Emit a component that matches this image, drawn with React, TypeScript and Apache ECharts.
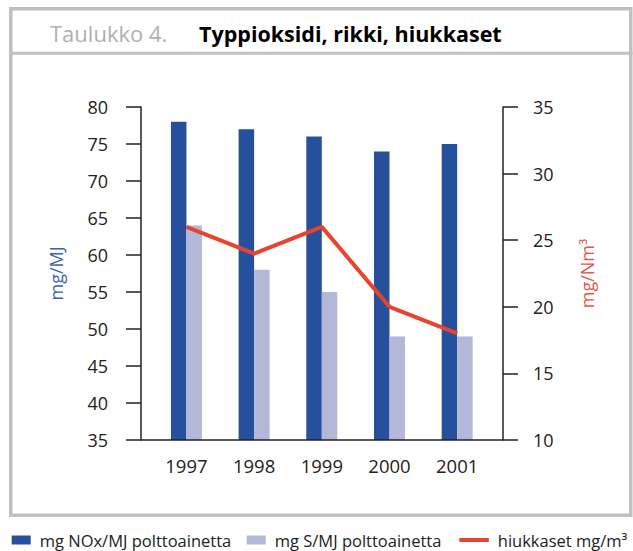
import React, { useEffect, useRef } from "react";
import * as echarts from "echarts";

const years = ["1997", "1998", "1999", "2000", "2001"];
const noxValues = [78, 77, 76, 74, 75];
const sulfurValues = [64, 58, 55, 49, 49];
const particleValues = [26, 24, 26, 20, 18];

const noxName = "mg NOx/MJ polttoainetta";
const sulfurName = "mg S/MJ polttoainetta";
const particleName = "hiukkaset mg/m³";

const FONT = "'Open Sans', 'Noto Sans', sans-serif";
const DARK = "#26509b";
const LIGHT = "#b3b7d8";
const RED = "#e8432e";
const TEXT = "#222222";
const FRAME = "#c0c0c0";

export default function App() {
  const ref = useRef<HTMLDivElement>(null);

  useEffect(() => {
    if (!ref.current) return;
    const chart = echarts.init(ref.current, undefined, { renderer: "svg" });
    const legendText = {
      fontFamily: FONT,
      fontSize: 16.5,
      color: TEXT,
      lineHeight: 17,
      padding: [0, 0, 0, 4],
    };
    chart.setOption({
      animation: false,
      backgroundColor: "#ffffff",
      textStyle: { fontFamily: FONT },
      title: [
        {
          text: "Taulukko 4.",
          left: 50,
          top: 20,
          padding: 0,
          textStyle: {
            fontFamily: FONT,
            fontSize: 22,
            fontWeight: "normal",
            color: "#b0b0b0",
            lineHeight: 26,
          },
        },
        {
          text: "Typpioksidi, rikki, hiukkaset",
          left: 199,
          top: 20,
          padding: 0,
          textStyle: {
            fontFamily: FONT,
            fontSize: 21.5,
            fontWeight: "bold",
            color: "#000000",
            lineHeight: 26,
          },
        },
      ],
      legend: [
        {
          data: [{ name: noxName, icon: "rect" }],
          left: 11.7,
          top: 531.5,
          padding: 0,
          itemWidth: 19,
          itemHeight: 9,
          textStyle: legendText,
        },
        {
          data: [{ name: sulfurName, icon: "rect" }],
          left: 246.7,
          top: 531.5,
          padding: 0,
          itemWidth: 19,
          itemHeight: 9,
          textStyle: legendText,
        },
        {
          data: [{ name: particleName, icon: "rect" }],
          left: 459.3,
          top: 531.5,
          padding: 0,
          itemWidth: 29.5,
          itemHeight: 4,
          textStyle: legendText,
        },
      ],
      grid: {
        left: 152.6,
        right: 142,
        top: 107,
        bottom: 111,
        containLabel: false,
      },
      xAxis: {
        type: "category",
        data: years,
        boundaryGap: true,
        axisLine: { show: false },
        axisTick: { show: false },
        axisLabel: {
          color: TEXT,
          fontFamily: FONT,
          fontSize: 18.5,
          lineHeight: 18,
          margin: 16,
        },
      },
      yAxis: [
        {
          type: "value",
          position: "left",
          offset: 11.6,
          min: 35,
          max: 80,
          interval: 5,
          splitLine: { show: false },
          axisLine: { show: true, lineStyle: { color: TEXT, width: 1.5 } },
          axisTick: {
            show: true,
            inside: false,
            length: 15,
            lineStyle: { color: TEXT, width: 1.5 },
          },
          axisLabel: {
            color: TEXT,
            fontFamily: FONT,
            fontSize: 18,
            margin: 33,
          },
          name: "mg/MJ",
          nameLocation: "middle",
          nameRotate: 90,
          nameGap: 76,
          nameTextStyle: {
            color: "#3d64ae",
            fontFamily: FONT,
            fontSize: 18,
          },
        },
        {
          type: "value",
          position: "right",
          offset: 12,
          min: 10,
          max: 35,
          interval: 5,
          splitLine: { show: false },
          axisLine: { show: true, lineStyle: { color: TEXT, width: 1.5 } },
          axisTick: {
            show: true,
            inside: false,
            length: 15,
            lineStyle: { color: TEXT, width: 1.5 },
          },
          axisLabel: {
            color: TEXT,
            fontFamily: FONT,
            fontSize: 18,
            margin: 30,
          },
          name: "mg/Nm³",
          nameLocation: "middle",
          nameRotate: 90,
          nameGap: 75,
          nameTextStyle: {
            color: "#e8564a",
            fontFamily: FONT,
            fontSize: 18,
          },
        },
      ],
      series: [
        {
          name: noxName,
          type: "bar",
          yAxisIndex: 0,
          data: noxValues,
          barWidth: 15.5,
          barGap: "0%",
          itemStyle: { color: DARK },
        },
        {
          name: sulfurName,
          type: "bar",
          yAxisIndex: 0,
          data: sulfurValues,
          barWidth: 15.5,
          barGap: "0%",
          itemStyle: { color: LIGHT },
        },
        {
          name: particleName,
          type: "line",
          yAxisIndex: 1,
          data: particleValues,
          symbol: "none",
          lineStyle: { color: RED, width: 4 },
          itemStyle: { color: RED },
          z: 5,
        },
      ],
      graphic: [
        {
          type: "rect",
          shape: { x: 10.75, y: 8.75, width: 620, height: 506.5 },
          style: { fill: "none", stroke: FRAME, lineWidth: 3.5 },
          silent: true,
        },
        {
          type: "line",
          shape: { x1: 9, y1: 53.2, x2: 632.5, y2: 53.2 },
          style: { stroke: FRAME, lineWidth: 3 },
          silent: true,
        },
        {
          type: "line",
          shape: { x1: 141, y1: 440, x2: 503, y2: 440 },
          style: { stroke: TEXT, lineWidth: 1.5 },
          silent: true,
          z: 10,
        },
      ],
    });
    return () => chart.dispose();
  }, []);

  return (
    <div
      ref={ref}
      style={{ position: "fixed", left: 0, top: 0, width: 633, height: 551 }}
    />
  );
}
